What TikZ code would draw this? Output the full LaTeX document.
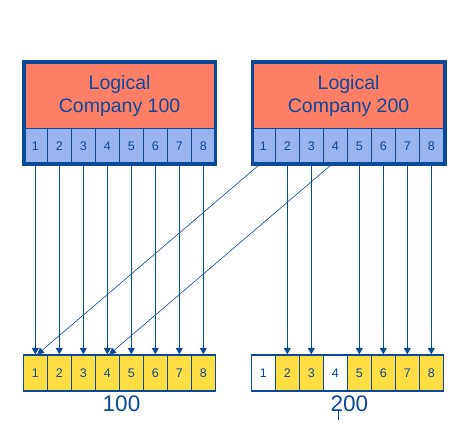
\documentclass[tikz,border=0pt]{standalone}
\usepackage{fontspec}
\setmainfont{Liberation Sans}
\usetikzlibrary{arrows.meta}
\definecolor{dblue}{HTML}{0B4A9B}
\definecolor{salmon}{HTML}{FF7F66}
\definecolor{cellblue}{HTML}{99B4EE}
\definecolor{cellyellow}{HTML}{FFDE44}
\begin{document}
\begin{tikzpicture}[x=1pt,y=-1pt,
  topcell/.style={draw=dblue, line width=0.9pt, fill=cellblue, minimum width=24pt, minimum height=35.8pt, inner sep=0pt, text=dblue, font=\fontsize{12.5}{14}\selectfont},
  botcell/.style={draw=dblue, line width=1.2pt, fill=cellyellow, minimum width=24pt, minimum height=36pt, inner sep=0pt, text=dblue, font=\fontsize{12.5}{14}\selectfont},
  emptycell/.style={botcell, fill=white},
  frame/.style={draw=dblue, line width=3.8pt},
  title/.style={text=dblue, align=center, font=\fontsize{19.5}{23.4}\selectfont, inner sep=0pt},
  map/.style={draw=dblue, line width=0.9pt, -{Triangle[width=7pt,length=6.5pt]}},
  cross/.style={map, line width=0.6pt},
  grouplabel/.style={text=dblue, font=\fontsize{22.5}{26}\selectfont, inner sep=0pt}
]
\useasboundingbox (0,0) rectangle (454,428);
\fill[white] (0,0) rectangle (454,428);
% logical company boxes
\fill[salmon] (23.8,62) rectangle (215.5,128);
\fill[salmon] (252.5,62) rectangle (444.7,128);
\node[title] (t100) at (119.6,95.9) {Logical\\Company 100};
\node[title] (t200) at (348.6,95.9) {Logical\\Company 200};
\foreach \k in {1,...,8} {
  \node[topcell] (a\k) at ({11.3+24*\k},145.9) {\k};
  \node[topcell] (b\k) at ({239.3+24*\k},145.9) {\k};
}
% physical companies
\foreach \k in {1,...,8} {
  \node[botcell] (p\k) at ({11.3+24*\k},373) {\k};
}
\foreach \k in {2,3,5,6,7,8} {
  \node[botcell] (q\k) at ({239.3+24*\k},373) {\k};
}
\foreach \k in {1,4} {
  \node[emptycell] (q\k) at ({239.3+24*\k},373) {\k};
}
% mappings
\foreach \k in {1,...,8} {
  \draw[map] (a\k.south) -- (p\k.north);
}
\foreach \k in {2,3,5,6,7,8} {
  \draw[map] (b\k.south) -- (q\k.north);
}
\draw[cross] ([xshift=-3.5pt]b1.south) -- ([xshift=2pt]p1.north);
\draw[cross] ([xshift=-3.5pt]b4.south) -- ([xshift=2pt]p4.north);
% frames
\draw[frame] (23.8,62) rectangle (215.5,163.8);
\draw[frame] (252.5,62) rectangle (444.7,163.8);
% labels
\node[grouplabel] (l100) at (121.5,403.7) {100};
\node[grouplabel] (l200) at (349.3,403.7) {200};
\coordinate (tickA) at (338.3,411);
\coordinate (tickB) at (338.3,419.5);
\draw[dblue, line width=0.8pt] (tickA) -- (tickB);
\end{tikzpicture}
\end{document}
